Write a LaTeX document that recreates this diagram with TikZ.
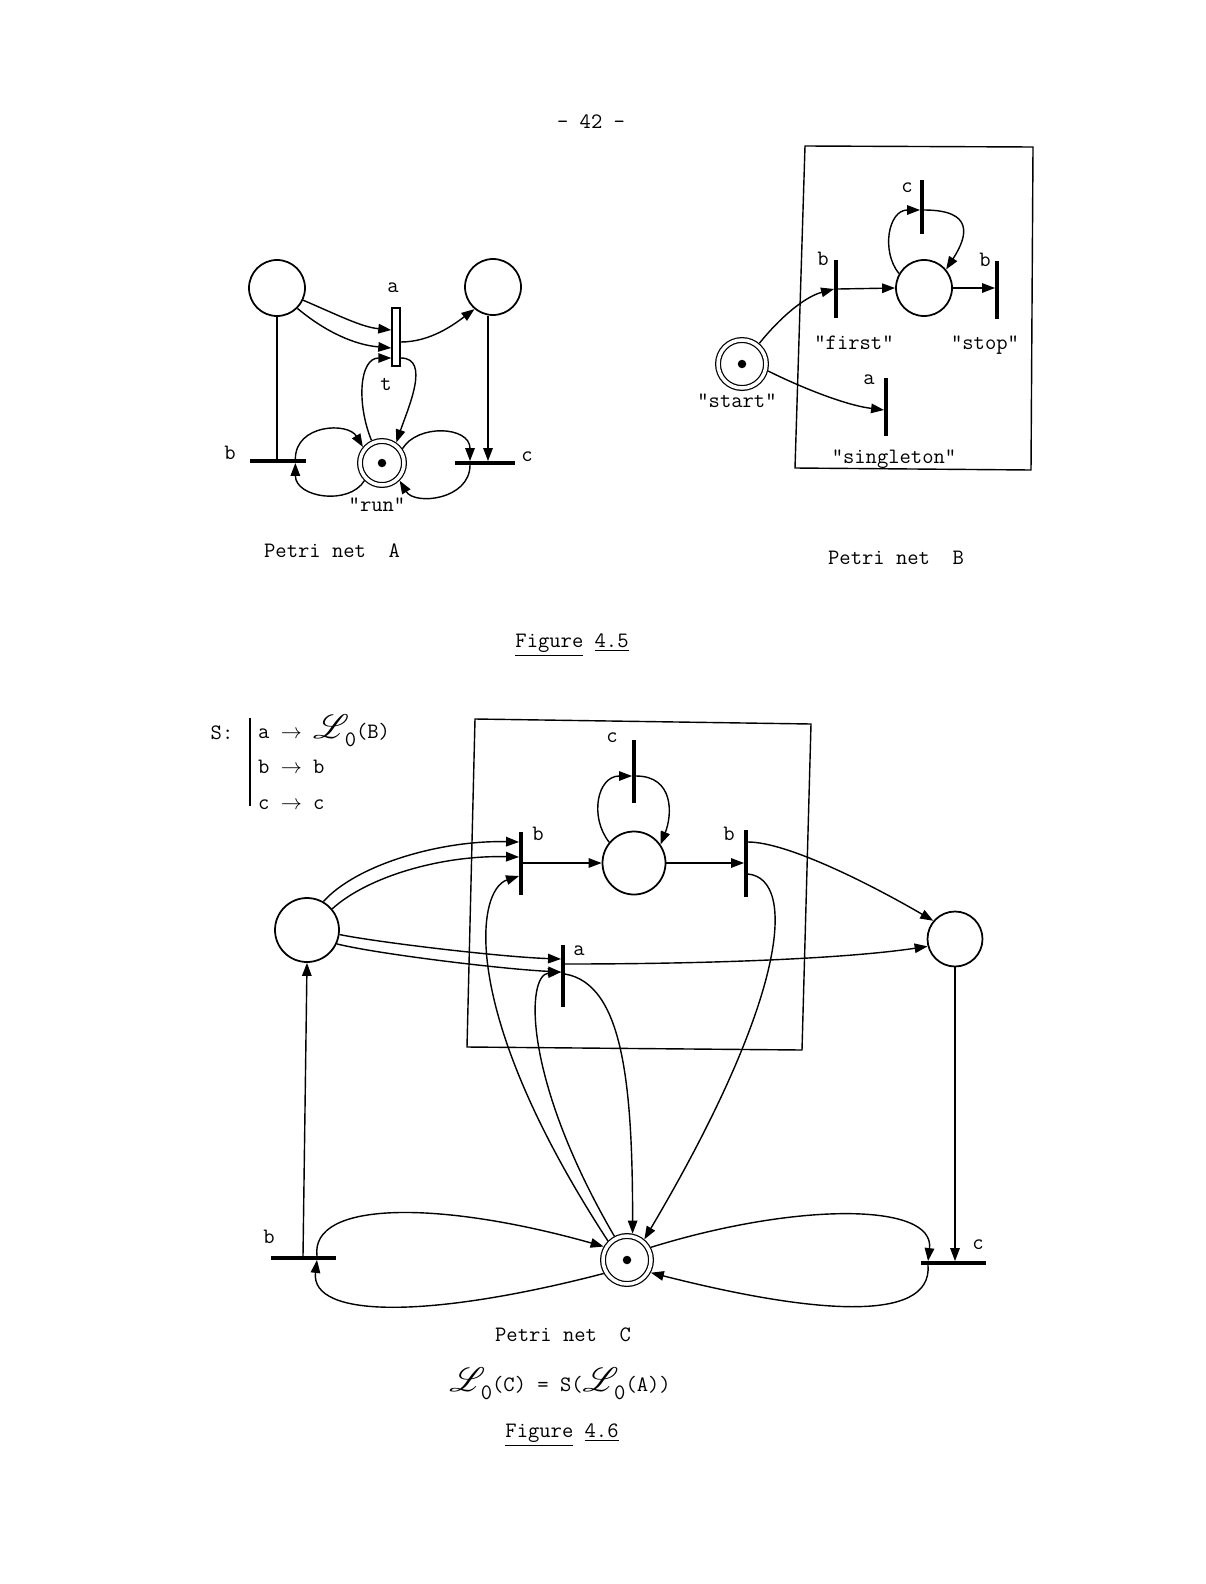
\documentclass[tikz,border=0pt]{standalone}
\usepackage{fontspec}
\usepackage{mathrsfs}
\usepackage{graphicx}
\usetikzlibrary{arrows.meta, calc}

\newcommand{\Lzero}{\scalebox{1.6}{$\mathscr{L}$}\kern-0.2em\raisebox{-0.9ex}{0}}

\begin{document}
\begin{tikzpicture}[x=0.2mm, y=-0.2mm,
        font=\ttfamily\fontsize{12.5}{15}\selectfont,
        line/.style={line width=0.8pt},
        arc/.style={line width=0.8pt, -{Triangle[length=2.6mm, width=1.9mm]}},
        place/.style={circle, draw, line width=1pt, minimum size=11.2mm, inner sep=0pt},
        runplace/.style={circle, draw, double, line width=0.7pt, double distance=2pt,
            minimum size=9.6mm, inner sep=0pt, outer sep=1.7pt},
        token/.style={circle, fill, minimum size=1.7mm, inner sep=0pt},
        vbar/.style={fill, minimum width=1.8pt, minimum height=11.6mm, inner sep=0pt},
        hbar/.style={fill, minimum height=1.8pt, minimum width=11.6mm, inner sep=0pt},
        abox/.style={draw, fill=white, line width=0.8pt, minimum width=1.6mm,
            minimum height=11.6mm, inner sep=0pt}]
    \useasboundingbox (0,0) rectangle (1205,1584);
    \node (page) at (591,122) {- 42 -};

    % Petri net A
    \node[place] (pA1) at (277,288) {};
    \node[place] (pA2) at (493,287) {};
    \node[abox] (tA) at (396,337) {};
    \node[runplace, minimum size=8.8mm] (runA) at (382,463) {};
    \node[token] (kA) at (runA) {};
    \node[hbar, minimum width=11.2mm] (bA) at (278,461) {};
    \node[hbar, minimum width=12mm] (cA) at (485,463) {};
    \node (laA) at (393,288) {a};
    \node (ltA) at (386,384) {t};
    \node (lbA) at (230,453) {b};
    \node (lcA) at (527,457) {c};
    \node (lrunA) at (377,505) {"run"};
    \node (capA) at (332,551) {Petri net\ \ A};
    \draw[line] (pA1.south) -- (pA1.south |- bA.center);
    \draw[arc] ($(pA2.south)+(-5,0)$) -- ($(pA2.south |- cA.north)+(-5,0)$);
    \draw[arc] (pA1.-25) .. controls +(35,15) and +(-30,-3) .. ($(tA.west)+(0,-7)$);
    \draw[arc] (pA1.-45) .. controls +(30,25) and +(-35,-3) .. ($(tA.west)+(0,11)$);
    \draw[arc] (runA.115) .. controls +(-15,-37) and +(-32,0) .. ($(tA.west)+(0,21)$);
    \draw[arc] ($(tA.east)+(0,21)$) .. controls +(30,0) and +(12,-35) .. (runA.55);
    \draw[arc] ($(tA.east)+(0,5)$) .. controls +(30,0) and +(-20,15) .. (pA2.-130);
    \draw[arc] (runA.-135) .. controls +(-15,25) and +(0,35) .. ($(bA.south east)+(-11,0)$);
    \draw[arc] ($(bA.north east)+(-11,0)$) .. controls +(0,-35) and +(-15,-25) .. (runA.140);
    \draw[arc] (runA.35) .. controls +(15,-25) and +(0,-35) .. ($(cA.north)+(-15,0)$);
    \draw[arc] ($(cA.south)+(-15,0)$) .. controls +(0,35) and +(15,25) .. (runA.-45);

    % Petri net B
    \draw[line] (805,146) -- (1033,147) -- (1031,470) -- (795,468) -- cycle;
    \node[runplace] (startB) at (742,364) {};
    \node[token] (kB) at (startB) {};
    \node[vbar] (firstB) at (836,289) {};
    \node[place] (PB) at (924,288) {};
    \node[vbar] (stopB) at (997,290) {};
    \node[vbar, minimum height=10.8mm] (cB) at (922,207) {};
    \node[vbar] (singB) at (886,407) {};
    \node (lfirstB) at (823,259) {b};
    \node (lstopB) at (985,260) {b};
    \node (lcB) at (907,188) {c};
    \node (laB) at (869,380) {a};
    \node (nfirstB) at (854,343) {"first"};
    \node (nstopB) at (985,345) {"stop"};
    \node (nstartB) at (737,401) {"start"};
    \node (nsingB) at (894,459) {"singleton"};
    \node (capB) at (896,558) {Petri net\ \ B};
    \draw[arc] (startB.50) .. controls +(20,-25) and +(-30,8) .. (firstB.west);
    \draw[arc] (firstB.east) -- (PB.west);
    \draw[arc] (PB.east) -- (PB.east -| stopB.west);
    \draw[arc] (startB.-15) .. controls +(30,15) and +(-40,-5) .. ($(singB.west)+(0,3)$);
    \draw[arc] (PB.150) .. controls +(-18,-22) and +(-32,0) .. ($(cB.west)+(0,3)$);
    \draw[arc] ($(cB.east)+(0,3)$) .. controls +(50,0) and +(22,-34) .. (PB.40);

    \node (fig45) at (572,645) {\underline{Figure} \underline{4.5}};

    % the substitution S
    \node (Slabel) at (222,733) {S:};
    \draw[line] (250,718) -- (250,806);
    \node[anchor=base west] (S1) at (252,738) {a $\rightarrow$ \Lzero(B)};
    \node[anchor=base west] (S2) at (252,773) {b $\rightarrow$ b};
    \node[anchor=base west] (S3) at (252,809) {c $\rightarrow$ c};

    % Petri net C
    \draw[line] (475,719) -- (811,724) -- (802,1050) -- (467,1047) -- cycle;
    \node[place, minimum size=12.8mm] (LC) at (307,930) {};
    \node[place, minimum size=12.6mm] (MC) at (634,863) {};
    \node[place, minimum size=11mm] (RC) at (955,939) {};
    \node[vbar, minimum height=12.6mm] (b1C) at (521,863) {};
    \node[vbar, minimum height=13.4mm] (b2C) at (746,863) {};
    \node[vbar, minimum height=12.6mm] (cC) at (634,771) {};
    \node[vbar, minimum height=12.4mm] (aC) at (563,976) {};
    \node[runplace] (runC) at (627,1260) {};
    \node[token] (kC) at (runC) {};
    \node[hbar, minimum width=13mm] (bC) at (303,1258) {};
    \node[hbar, minimum width=13mm] (c2C) at (953,1263) {};
    \node (lb1C) at (538,834) {b};
    \node (lb2C) at (729,834) {b};
    \node (laC) at (579,951) {a};
    \node (lcC) at (612,738) {c};
    \node (lbC) at (269,1237) {b};
    \node (lc2C) at (978,1245) {c};
    \node (capC) at (563,1335) {Petri net\ \ C};
    \node (eqC) at (560,1384) {\Lzero(C) = S(\Lzero(A))};
    \node (fig46) at (562,1435) {\underline{Figure} \underline{4.6}};
    \draw[arc] (LC.60) .. controls +(33,-37) and +(-78,-2) .. ($(b1C.west)+(0,-21)$);
    \draw[arc] (LC.40) .. controls +(35,-32) and +(-78,-2) .. ($(b1C.west)+(0,-6)$);
    \draw[arc] (runC.135) .. controls +(-150,-230) and +(-43,14) .. ($(b1C.west)+(0,13)$);
    \draw[arc] (LC.-8) .. controls +(40,8) and +(-60,-2) .. ($(aC.west)+(0,-17)$);
    \draw[arc] (LC.-25) .. controls +(40,10) and +(-60,-3) .. ($(aC.west)+(0,-4)$);
    \draw[arc] (runC.118) .. controls +(-92,-158) and +(-35,3) .. ($(aC.west)+(0,-4)$);
    \draw[arc] ($(aC.east)+(0,-2)$) .. controls +(58,10) and +(0,-150) .. (runC.78);
    \draw[arc] ($(aC.east)+(0,-12)$) .. controls +(150,0) and +(-80,12) .. (RC.-165);
    \draw[arc] (b1C.east) -- (MC.west);
    \draw[arc] (MC.east) -- (b2C.west);
    \draw[arc] (MC.140) .. controls +(-20,-25) and +(-35,0) .. ($(cC.west)+(0,5)$);
    \draw[arc] ($(cC.east)+(0,5)$) .. controls +(38,0) and +(12,-30) .. (MC.35);
    \draw[arc] ($(b2C.east)+(0,-21)$) .. controls +(40,0) and +(-60,-35) .. (RC.140);
    \draw[arc] ($(b2C.east)+(0,11)$) .. controls +(50,5) and +(142,-240) .. (runC.50);
    \draw[arc] (RC.south) -- (RC.south |- c2C.north);
    \draw[arc] (bC.north) -- (LC.south);
    \draw[arc] (runC.-150) .. controls +(-173,45) and +(-7,59) .. ($(bC.south)+(14,0)$);
    \draw[arc] ($(bC.north)+(14,0)$) .. controls +(-7,-56) and +(-163,-46) .. (runC.150);
    \draw[arc] (runC.28) .. controls +(145,-45) and +(7,-59) .. ($(c2C.north)+(-25,0)$);
    \draw[arc] ($(c2C.south)+(-25,0)$) .. controls +(5,60) and +(157,40) .. (runC.-28);
\end{tikzpicture}
\end{document}
